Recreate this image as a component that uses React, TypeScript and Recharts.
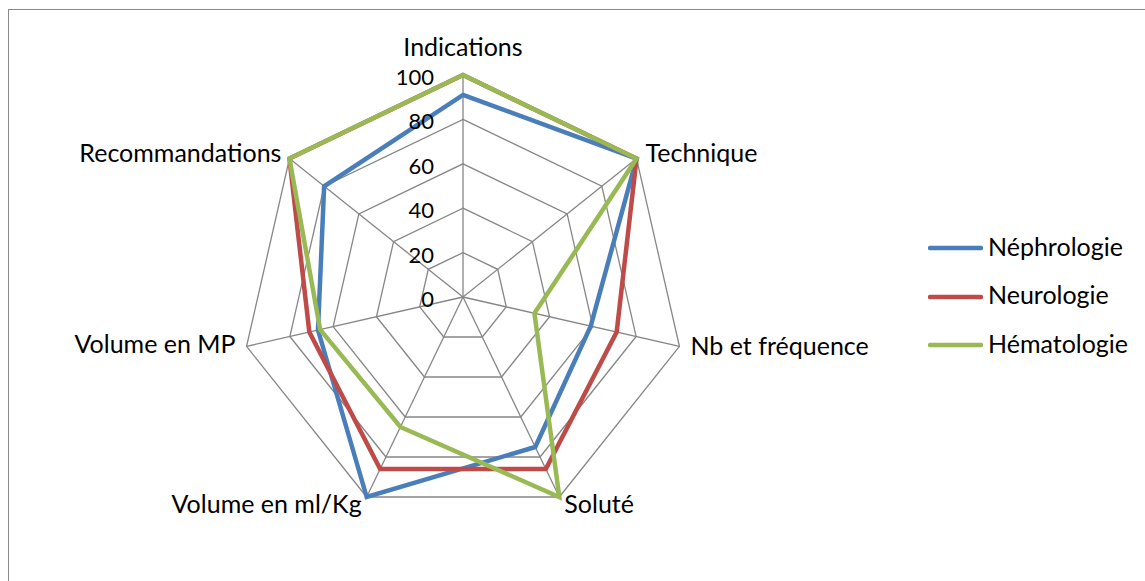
import React from "react";
import { RadarChart, Radar, PolarGrid, PolarAngleAxis, PolarRadiusAxis, Legend } from "recharts";

const categories = ["Indications", "Technique", "Nb et fréquence", "Soluté", "Volume en ml/Kg", "Volume en MP", "Recommandations"];
const nephrologie = [91, 100, 59, 75, 100, 67, 80];
const neurologie = [100, 100, 71, 86, 86, 71, 100];
const hematologie = [100, 100, 33, 100, 65, 66, 100];
const radiusTicks = [0, 20, 40, 60, 80, 100];

const seriesList = [
  { key: "Néphrologie", values: nephrologie, color: "#4A7EBB" },
  { key: "Neurologie", values: neurologie, color: "#BE4B48" },
  { key: "Hématologie", values: hematologie, color: "#98B954" },
];

const data = categories.map((c, i) => {
  const row: any = { cat: c };
  seriesList.forEach((s) => (row[s.key] = s.values[i]));
  return row;
});

const FONT = "Lato, 'Liberation Sans', sans-serif";
const CX = 454;
const CY = 287;
const R = 222;

// label placement relative to axis vertex: [dx, dy(baseline), anchor]
const labelPlace: [number, number, string][] = [
  [0, -19, "middle"],
  [9, 3, "start"],
  [11, 9, "start"],
  [5, 16, "start"],
  [-5, 16, "end"],
  [-11, 7, "end"],
  [-8, 3, "end"],
];

const AngleTick = (props: any) => {
  const i = props.index;
  const theta = ((90 - (i * 360) / categories.length) * Math.PI) / 180;
  const vx = CX + R * Math.cos(theta);
  const vy = CY - R * Math.sin(theta);
  const [dx, dy, anchor] = labelPlace[i];
  return (
    <text x={vx + dx} y={vy + dy} textAnchor={anchor as any} fontSize={25} fontFamily={FONT} fill="#000">
      {props.payload.value}
    </text>
  );
};

const RadiusTick = (props: any) => {
  return (
    <text x={props.x - 29} y={props.y + 10} textAnchor="end" fontSize={22} fontFamily={FONT} fill="#000">
      {props.payload.value}
    </text>
  );
};

const LegendContent = () => (
  <div style={{ width: 212, fontFamily: FONT, fontSize: 25, color: "#000" }}>
    {seriesList.map((s) => (
      <div key={s.key} style={{ height: 48.5, display: "flex", alignItems: "center" }}>
        <svg width={55} height={8} style={{ flex: "none" }}>
          <line x1={2} x2={53} y1={4} y2={4} stroke={s.color} strokeWidth={4.5} strokeLinecap="round" />
        </svg>
        <span style={{ marginLeft: 5, lineHeight: 1, position: "relative", top: -2, whiteSpace: "nowrap" }}>{s.key}</span>
      </div>
    ))}
  </div>
);

export default function App() {
  return (
    <div
      style={{
        position: "absolute",
        left: 8,
        top: 9,
        width: 1160,
        height: 600,
        border: "1px solid #898989",
        background: "#fff",
      }}
    >
      <RadarChart width={1132} height={570} data={data} cx={CX} cy={CY} outerRadius={R} startAngle={90} endAngle={-270}>
        <PolarGrid gridType="polygon" stroke="#868686" strokeWidth={1.3} />
        <PolarAngleAxis dataKey="cat" tick={AngleTick} tickLine={false} axisLine={false} />
        {seriesList.map((s) => (
          <Radar
            key={s.key}
            name={s.key}
            dataKey={s.key}
            stroke={s.color}
            strokeWidth={4.5}
            fill="none"
            fillOpacity={0}
            dot={false}
            isAnimationActive={false}
          />
        ))}
        <PolarRadiusAxis
          angle={90}
          domain={[0, 100]}
          ticks={radiusTicks as any}
          tickCount={6}
          axisLine={false}
          tick={RadiusTick}
        />
        <Legend
          content={LegendContent}
          wrapperStyle={{ position: "absolute", left: 919, top: 214, width: 212, height: 146 }}
        />
      </RadarChart>
    </div>
  );
}
